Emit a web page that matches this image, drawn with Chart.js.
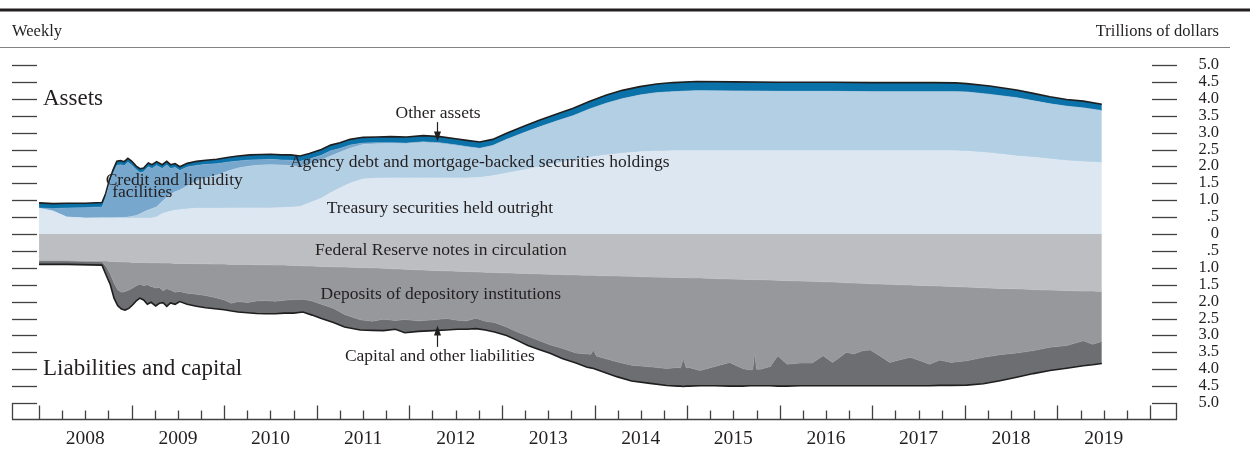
<!DOCTYPE html>
<html>
<head>
<meta charset="utf-8">
<script src="https://cdn.jsdelivr.net/npm/chart.js@4.4.1/dist/chart.umd.min.js"></script>
<style>
  html, body { margin: 0; padding: 0; background: #fff; }
</style>
</head>
<body>
<canvas id="balanceChart" width="1250" height="456"></canvas>
<script>
// Weekly balance sheet, trillions of dollars (decimal years on x)
const assetWeeks = [
  2008.00, 2008.15, 2008.30, 2008.50, 2008.68, 2008.72, 2008.76, 2008.80, 2008.84, 2008.88, 2008.92, 2008.96,
  2009.00, 2009.05, 2009.09, 2009.13, 2009.18, 2009.22, 2009.27, 2009.33, 2009.38, 2009.42, 2009.47, 2009.52, 2009.60, 2009.70, 2009.80, 2009.92,
  2010.05, 2010.15, 2010.28, 2010.40, 2010.50, 2010.62, 2010.72, 2010.82, 2010.92,
  2011.05, 2011.15, 2011.25, 2011.36, 2011.50, 2011.65, 2011.80, 2011.97,
  2012.15, 2012.33, 2012.50, 2012.62, 2012.76, 2012.90,
  2013.05, 2013.25, 2013.41, 2013.60, 2013.77, 2013.95,
  2014.13, 2014.30, 2014.49, 2014.67, 2014.85,
  2015.10, 2015.50, 2016.00, 2016.58, 2017.00, 2017.66, 2017.90,
  2018.02, 2018.27, 2018.56, 2018.74, 2018.92,
  2019.10, 2019.28, 2019.48
];
const treasuryHeld = [
  0.76, 0.68, 0.50, 0.47, 0.47, 0.47, 0.47, 0.47, 0.47, 0.47, 0.47, 0.47,
  0.47, 0.47, 0.47, 0.47, 0.47, 0.47, 0.50, 0.60, 0.64, 0.67, 0.70, 0.72, 0.74, 0.76, 0.76, 0.76,
  0.77, 0.77, 0.77, 0.77, 0.77, 0.78, 0.79, 0.81, 0.92,
  1.06, 1.22, 1.36, 1.50, 1.63, 1.65, 1.66, 1.66,
  1.66, 1.66, 1.66, 1.66, 1.67, 1.72,
  1.80, 1.90, 1.99, 2.09, 2.19, 2.27,
  2.34, 2.39, 2.43, 2.45, 2.46,
  2.46, 2.46, 2.46, 2.46, 2.46, 2.46, 2.46,
  2.45, 2.40, 2.31, 2.27, 2.22,
  2.17, 2.14, 2.11
];
const agencyMbs = [
  0, 0, 0, 0, 0.01, 0.01, 0.01, 0.01, 0.02, 0.02, 0.02, 0.03,
  0.05, 0.08, 0.12, 0.18, 0.24, 0.28, 0.30, 0.36, 0.45, 0.50, 0.55, 0.58, 0.68, 0.80, 0.90, 0.98,
  1.10, 1.18, 1.24, 1.27, 1.28, 1.26, 1.23, 1.18, 1.15,
  1.12, 1.09, 1.06, 1.04, 1.02, 1.02, 1.02, 1.01,
  1.05, 1.02, 0.96, 0.91, 0.85, 0.89,
  0.99, 1.11, 1.18, 1.26, 1.31, 1.43,
  1.53, 1.61, 1.68, 1.73, 1.75,
  1.78, 1.77, 1.76, 1.76, 1.75, 1.75, 1.75,
  1.75, 1.73, 1.72, 1.67, 1.63,
  1.61, 1.59, 1.54
];
const creditFacilities = [
  0.01, 0.07, 0.27, 0.31, 0.32, 0.60, 1.00, 1.30, 1.54, 1.56, 1.53, 1.62,
  1.52, 1.35, 1.23, 1.19, 1.28, 1.19, 1.23, 0.98, 0.95, 0.77, 0.72, 0.58, 0.56, 0.47, 0.40, 0.34,
  0.26, 0.21, 0.18, 0.16, 0.16, 0.15, 0.16, 0.16, 0.15,
  0.15, 0.15, 0.11, 0.09, 0.04, 0.03, 0.02, 0.02,
  0.02, 0.02, 0.02, 0.02, 0.02, 0.01,
  0.01, 0, 0, 0, 0, 0,
  0, 0, 0, 0, 0,
  0, 0, 0, 0, 0, 0, 0,
  0, 0, 0, 0, 0,
  0, 0, 0
];
const otherAssets = [
  0.15, 0.15, 0.14, 0.13, 0.13, 0.12, 0.12, 0.12, 0.12, 0.12, 0.12, 0.12,
  0.12, 0.11, 0.11, 0.11, 0.11, 0.11, 0.11, 0.11, 0.11, 0.11, 0.11, 0.11, 0.11, 0.12, 0.12, 0.13,
  0.14, 0.15, 0.15, 0.15, 0.15, 0.15, 0.16, 0.16, 0.16,
  0.17, 0.17, 0.17, 0.17, 0.17, 0.17, 0.18, 0.18,
  0.18, 0.18, 0.18, 0.18, 0.18, 0.18,
  0.18, 0.19, 0.20, 0.21, 0.22, 0.23,
  0.24, 0.25, 0.25, 0.26, 0.27,
  0.27, 0.27, 0.27, 0.27, 0.27, 0.27, 0.26,
  0.25, 0.25, 0.23, 0.22, 0.21,
  0.20, 0.20, 0.19
];

const liabilityWeeks = [
  2008.00, 2008.30, 2008.68, 2008.73, 2008.77, 2008.81, 2008.85, 2008.89, 2008.93, 2008.97,
  2009.01, 2009.05, 2009.09, 2009.13, 2009.17, 2009.21, 2009.26, 2009.30, 2009.34, 2009.38, 2009.42, 2009.47, 2009.52, 2009.60, 2009.70, 2009.80, 2009.90,
  2010.00, 2010.08, 2010.15, 2010.25, 2010.35, 2010.45, 2010.55, 2010.65, 2010.75, 2010.85, 2010.95,
  2011.05, 2011.18, 2011.30, 2011.47, 2011.60, 2011.72, 2011.85, 2011.95,
  2012.10, 2012.26, 2012.40, 2012.52, 2012.62, 2012.72, 2012.82, 2012.92,
  2013.05, 2013.16, 2013.28, 2013.40, 2013.52, 2013.65, 2013.80, 2013.92, 2013.96, 2013.99,
  2014.02, 2014.24, 2014.40, 2014.60, 2014.78, 2014.90, 2014.93, 2014.96, 2014.99,
  2015.02, 2015.14, 2015.30, 2015.46, 2015.60, 2015.68, 2015.71, 2015.73, 2015.75, 2015.79, 2015.90, 2015.98,
  2016.08, 2016.22, 2016.35, 2016.47, 2016.57, 2016.65, 2016.72, 2016.80, 2016.90, 2016.98,
  2017.08, 2017.19, 2017.30, 2017.41, 2017.52, 2017.62, 2017.73, 2017.85,
  2018.02, 2018.20, 2018.38, 2018.56, 2018.74, 2018.92,
  2019.10, 2019.28, 2019.38, 2019.48
];
const reserveNotes = [
  0.78, 0.78, 0.80, 0.80, 0.81, 0.81, 0.82, 0.82, 0.83, 0.83,
  0.84, 0.84, 0.84, 0.84, 0.85, 0.85, 0.85, 0.85, 0.86, 0.86, 0.86, 0.87, 0.87, 0.87, 0.88, 0.88, 0.89,
  0.89, 0.90, 0.90, 0.90, 0.91, 0.91, 0.92, 0.92, 0.93, 0.94, 0.95,
  0.96, 0.97, 0.98, 0.99, 1.00, 1.01, 1.03, 1.04,
  1.06, 1.08, 1.09, 1.10, 1.11, 1.12, 1.13, 1.14,
  1.15, 1.16, 1.17, 1.18, 1.19, 1.20, 1.21, 1.22, 1.22, 1.22,
  1.23, 1.24, 1.25, 1.27, 1.28, 1.29, 1.29, 1.29, 1.29,
  1.30, 1.30, 1.32, 1.33, 1.34, 1.35, 1.35, 1.35, 1.35, 1.35, 1.36, 1.37,
  1.38, 1.39, 1.40, 1.41, 1.42, 1.43, 1.44, 1.45, 1.46, 1.47,
  1.48, 1.49, 1.50, 1.51, 1.52, 1.53, 1.54, 1.55,
  1.57, 1.59, 1.61, 1.62, 1.64, 1.66,
  1.67, 1.69, 1.69, 1.70
];
const institutionDeposits = [
  0.02, 0.02, 0.02, 0.18, 0.37, 0.64, 0.83, 0.90, 0.87, 0.83,
  0.76, 0.69, 0.64, 0.69, 0.65, 0.70, 0.75, 0.73, 0.82, 0.76, 0.80, 0.85, 0.83, 0.88, 0.90, 0.94, 0.99,
  1.06, 1.15, 1.10, 1.13, 1.07, 1.06, 1.07, 1.04, 1.01, 0.99, 1.03,
  1.12, 1.23, 1.40, 1.55, 1.58, 1.51, 1.53, 1.49,
  1.51, 1.46, 1.41, 1.45, 1.46, 1.37, 1.45, 1.48,
  1.60, 1.73, 1.85, 1.97, 2.09, 2.18, 2.31, 2.33, 2.34, 2.21,
  2.38, 2.54, 2.63, 2.66, 2.70, 2.66, 2.67, 2.39, 2.67,
  2.65, 2.74, 2.60, 2.47, 2.64, 2.67, 2.66, 2.15, 2.65, 2.65, 2.56, 2.23,
  2.47, 2.43, 2.42, 2.19, 2.38, 2.22, 2.06, 2.10, 1.99, 1.96,
  2.12, 2.31, 2.22, 2.14, 2.23, 2.32, 2.19, 2.25,
  2.18, 2.06, 1.96, 1.90, 1.81, 1.69,
  1.63, 1.47, 1.57, 1.48
];
const capitalOther = [
  0.10, 0.10, 0.10, 0.27, 0.32, 0.45, 0.47, 0.50, 0.55, 0.54,
  0.50, 0.45, 0.42, 0.42, 0.58, 0.47, 0.53, 0.47, 0.35, 0.52, 0.38, 0.36, 0.30, 0.33, 0.36, 0.36, 0.33,
  0.29, 0.23, 0.31, 0.30, 0.37, 0.39, 0.37, 0.38, 0.40, 0.38, 0.42,
  0.42, 0.42, 0.37, 0.30, 0.27, 0.34, 0.26, 0.39,
  0.31, 0.32, 0.34, 0.27, 0.25, 0.31, 0.26, 0.28,
  0.25, 0.25, 0.28, 0.27, 0.25, 0.30, 0.30, 0.39, 0.40, 0.55,
  0.40, 0.44, 0.47, 0.49, 0.50, 0.55, 0.54, 0.83, 0.54,
  0.55, 0.45, 0.57, 0.70, 0.52, 0.47, 0.48, 0.99, 0.49, 0.49, 0.57, 0.90,
  0.65, 0.67, 0.67, 0.89, 0.69, 0.84, 0.99, 0.94, 1.04, 1.06,
  0.89, 0.69, 0.77, 0.84, 0.74, 0.64, 0.75, 0.68,
  0.72, 0.78, 0.77, 0.72, 0.68, 0.69,
  0.67, 0.74, 0.61, 0.65
];

const yearLabels = ['2008', '2009', '2010', '2011', '2012', '2013', '2014', '2015', '2016', '2017', '2018', '2019'];
const valueTicks = [5, 4.5, 4, 3.5, 3, 2.5, 2, 1.5, 1, 0.5, 0, -0.5, -1, -1.5, -2, -2.5, -3, -3.5, -4, -4.5, -5];
const valueTickLabels = ['5.0', '4.5', '4.0', '3.5', '3.0', '2.5', '2.0', '1.5', '1.0', '.5', '0',
  '.5', '1.0', '1.5', '2.0', '2.5', '3.0', '3.5', '4.0', '4.5', '5.0'];

// text placed in data coordinates: [text, year, value, align, size]
const areaNotes = [
  ['Other assets', 2012.31, 3.58, 'center', 17.5],
  ['Agency debt and mortgage-backed securities holdings', 2012.76, 2.13, 'center', 17.5],
  ['Credit and liquidity', 2008.72, 1.60, 'left', 17.5],
  ['facilities', 2008.79, 1.24, 'left', 17.5],
  ['Treasury securities held outright', 2012.33, 0.77, 'center', 17.5],
  ['Federal Reserve notes in circulation', 2012.34, -0.48, 'center', 17.5],
  ['Deposits of depository institutions', 2012.34, -1.80, 'center', 17.5],
  ['Capital and other liabilities', 2012.33, -3.61, 'center', 17.5]
];
// arrows: [year, from value, to value]
const areaArrows = [
  [2012.30, 3.31, 2.74],
  [2012.30, -3.34, -2.71]
];

const SERIF = '"Liberation Serif", "Times New Roman", "DejaVu Serif", serif';
const INK = '#231f20';

function toPoints(weeks, values, sign) {
  return weeks.map((w, i) => ({ x: w, y: sign * values[i] }));
}

function layer(label, weeks, values, sign, stack, fill, color, edge, edgeWidth) {
  return {
    label: label,
    data: toPoints(weeks, values, sign),
    stack: stack,
    fill: fill,
    backgroundColor: color,
    borderColor: edge || color,
    borderWidth: edgeWidth || 0.6,
    pointRadius: 0,
    tension: 0
  };
}

function stroke(ctx, x1, y1, x2, y2) {
  ctx.beginPath();
  ctx.moveTo(x1, y1);
  ctx.lineTo(x2, y2);
  ctx.stroke();
}

function write(ctx, str, x, y, size, align) {
  ctx.font = size + 'px ' + SERIF;
  ctx.fillStyle = INK;
  ctx.textAlign = align;
  ctx.textBaseline = 'middle';
  ctx.fillText(str, x, y);
}

// frame, axes, tick labels and area captions
const balanceFrame = {
  id: 'balanceFrame',
  afterDraw(chart) {
    const ctx = chart.ctx;
    const xs = chart.scales.x;
    const ys = chart.scales.y;
    ctx.save();

    // header rules and captions
    ctx.strokeStyle = INK;
    ctx.lineWidth = 3;
    stroke(ctx, 0, 10, 1250, 10);
    ctx.strokeStyle = '#808285';
    ctx.lineWidth = 1.2;
    stroke(ctx, 0, 47.5, 1230, 47.5);
    write(ctx, 'Weekly', 12, 32, 16.5, 'left');
    write(ctx, 'Trillions of dollars', 1219, 32, 16.5, 'right');

    // value ticks on both sides, labels on the right
    const left = xs.left;
    const right = xs.right;
    ctx.strokeStyle = '#414042';
    ctx.lineWidth = 1.3;
    valueTicks.forEach((v, i) => {
      const py = Math.round(ys.getPixelForValue(v)) + 0.5;
      stroke(ctx, left, py, left + 25, py);
      stroke(ctx, right - 25, py, right, py);
      write(ctx, valueTickLabels[i], 1219, py - 1, 16.5, 'right');
    });

    // time axis with year and quarter ticks
    const base = ys.bottom + 16.5;
    stroke(ctx, left, base, right, base);
    stroke(ctx, left + 0.5, ys.bottom, left + 0.5, base);
    stroke(ctx, right - 0.5, ys.bottom, right - 0.5, base);
    for (let q = 0; q <= 48; q++) {
      const px = Math.round(xs.getPixelForValue(2008 + q / 4)) + 0.5;
      stroke(ctx, px, base - (q % 4 === 0 ? 14 : 9), px, base);
    }
    yearLabels.forEach((t, i) => {
      write(ctx, t, xs.getPixelForValue(2008 + i + 0.5), 439, 19.5, 'center');
    });

    // section titles
    write(ctx, 'Assets', 43, ys.getPixelForValue(4), 23, 'left');
    write(ctx, 'Liabilities and capital', 43, ys.getPixelForValue(-4), 23, 'left');

    // area captions
    areaNotes.forEach(n => {
      write(ctx, n[0], xs.getPixelForValue(n[1]), ys.getPixelForValue(n[2]), n[4], n[3]);
    });

    // pointer arrows
    ctx.strokeStyle = INK;
    ctx.fillStyle = INK;
    ctx.lineWidth = 1.2;
    areaArrows.forEach(a => {
      const px = Math.round(xs.getPixelForValue(a[0])) + 0.5;
      const y1 = ys.getPixelForValue(a[1]);
      const y2 = ys.getPixelForValue(a[2]);
      const dir = y2 > y1 ? 1 : -1;
      stroke(ctx, px, y1, px, y2 - dir * 6);
      ctx.beginPath();
      ctx.moveTo(px, y2);
      ctx.lineTo(px - 3.5, y2 - dir * 10);
      ctx.lineTo(px + 3.5, y2 - dir * 10);
      ctx.closePath();
      ctx.fill();
    });

    ctx.restore();
  }
};

const ctx = document.getElementById('balanceChart').getContext('2d');

new Chart(ctx, {
  type: 'line',
  data: {
    datasets: [
      layer('Treasury securities held outright', assetWeeks, treasuryHeld, 1, 'assets', 'origin', '#dce7f1'),
      layer('Agency debt and mortgage-backed securities holdings', assetWeeks, agencyMbs, 1, 'assets', '-1', '#b3cfe4'),
      layer('Credit and liquidity facilities', assetWeeks, creditFacilities, 1, 'assets', '-1', '#78a7cd'),
      layer('Other assets', assetWeeks, otherAssets, 1, 'assets', '-1', '#0a72a8', '#1f1f1f', 1.6),
      layer('Federal Reserve notes in circulation', liabilityWeeks, reserveNotes, -1, 'liabilities', 'origin', '#bdbec1'),
      layer('Deposits of depository institutions', liabilityWeeks, institutionDeposits, -1, 'liabilities', '-1', '#97989b'),
      layer('Capital and other liabilities', liabilityWeeks, capitalOther, -1, 'liabilities', '-1', '#6d6e71', '#1f1f1f', 1.6)
    ]
  },
  options: {
    responsive: false,
    animation: false,
    layout: {
      padding: { left: 12, right: 73, top: 65, bottom: 53 }
    },
    scales: {
      x: {
        type: 'linear',
        display: false,
        min: 2007.708,
        max: 2020.292
      },
      y: {
        display: false,
        stacked: true,
        min: -5,
        max: 5
      }
    },
    plugins: {
      legend: { display: false },
      tooltip: { enabled: false }
    }
  },
  plugins: [balanceFrame]
});
</script>
</body>
</html>
